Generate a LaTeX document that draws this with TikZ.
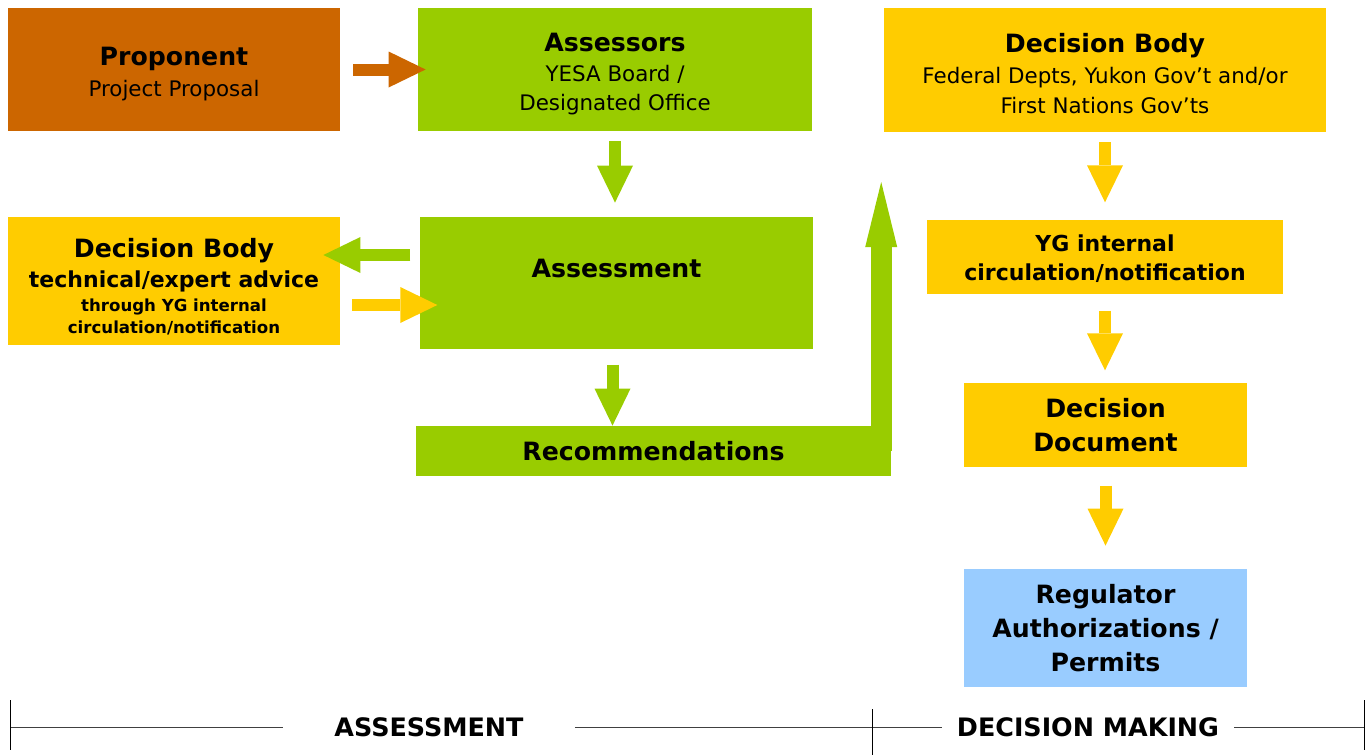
\documentclass[tikz,border=0pt]{standalone}
\usepackage{fontspec}
\setmainfont{DejaVu Sans}
\usetikzlibrary{arrows.meta}
\definecolor{propbrown}{RGB}{204,102,0}
\definecolor{yesagreen}{RGB}{153,204,0}
\definecolor{govyellow}{RGB}{255,204,0}
\definecolor{permitblue}{RGB}{153,204,255}
\definecolor{axisgray}{RGB}{64,64,64}
\newcommand{\boxtitle}{\fontsize{12.6}{17}\selectfont\bfseries}
\newcommand{\boxsub}{\fontsize{10.7}{15}\selectfont\mdseries}
\newcommand{\boxmid}{\fontsize{11}{14.5}\selectfont\bfseries}
\newcommand{\boxnote}{\fontsize{8.3}{10.5}\selectfont\bfseries}
\newcommand{\padtop}[1]{\rule{0pt}{#1}}
\tikzset{
	boxnode/.style={rectangle, inner sep=0pt, align=center, text=black},
	linegap/.style={font=\fontsize{10}{#1}\selectfont},
	blockarrow/.style={line width=6pt, -{Triangle[length=18.5pt, width=18pt, line width=0pt]}},
	axislabel/.style={inner ysep=0pt, font=\fontsize{12.7}{15}\selectfont\bfseries},
	axisline/.style={axisgray, line width=0.75pt},
	tickline/.style={black, line width=0.5pt}
}
\begin{document}
\begin{tikzpicture}[x=0.5pt, y=-0.5pt]
	\useasboundingbox (0,0) rectangle (1370,755);

	\node[boxnode, linegap=15.5, fill=propbrown, minimum width=166pt, minimum height=61.5pt] at (174,69.5) (prop) {\padtop{13.7pt}\boxtitle Proponent\\\boxsub Project Proposal};
	\node[boxnode, linegap=14.5, fill=yesagreen, minimum width=197pt, minimum height=61.5pt] at (615,69.5) (asr) {\padtop{14.2pt}\boxtitle Assessors\\[0.5pt]\boxsub YESA Board /\\\boxsub Designated Office};
	\node[boxnode, linegap=15.2, fill=govyellow, minimum width=221pt, minimum height=62pt] at (1105,70) (dbtop) {\padtop{13.3pt}\boxtitle Decision Body\\\boxsub Federal Depts, Yukon Gov’t and/or\\\boxsub First Nations Gov’ts};
	\node[boxnode, linegap=11, fill=govyellow, minimum width=166pt, minimum height=64pt] at (174,281) (dbleft) {\padtop{15.6pt}\boxtitle Decision Body\\[3pt]\boxmid technical/expert advice\\[1pt]\boxnote through YG internal\\\boxnote circulation/notification};
	\node[boxnode, linegap=15, fill=yesagreen, minimum width=196.5pt, minimum height=66pt] at (616.5,283) (asmt) {\boxtitle Assessment\\\boxtitle\mbox{}};
	\node[boxnode, fill=yesagreen, minimum width=237.5pt, minimum height=25pt] at (653.5,451) (rec) {\boxtitle Recommendations};
	\node[boxnode, linegap=14.5, fill=govyellow, minimum width=178pt, minimum height=37pt] at (1105,257) (yg) {\padtop{10.4pt}\boxmid YG internal\\\boxmid circulation/notification};
	\node[boxnode, linegap=17, fill=govyellow, minimum width=141.5pt, minimum height=42pt] at (1105.5,425) (ddoc) {\boxtitle Decision\\\boxtitle Document};
	\node[boxnode, linegap=17, fill=permitblue, minimum width=141.5pt, minimum height=59pt] at (1105.5,628) (reg) {\boxtitle Regulator\\\boxtitle Authorizations /\\\boxtitle Permits};

	\draw[blockarrow, propbrown, shorten <=6.5pt, shorten >=-4pt] (prop.east) -- (asr.west);
	\draw[blockarrow, yesagreen, shorten <=5pt, shorten >=7pt] (asr.south) -- (asr.south |- asmt.north);
	\draw[blockarrow, yesagreen, shorten <=4.65pt, shorten >=-8.5pt] ([yshift=14pt]asmt.west) -- ([yshift=14pt]asmt.west -| dbleft.east);
	\draw[blockarrow, govyellow, shorten <=6pt, shorten >=-8.85pt] ([yshift=-11pt]asmt.west -| dbleft.east) -- ([yshift=-11pt]asmt.west);
	\draw[blockarrow, yesagreen, shorten <=7.65pt] ([xshift=-2pt]asmt.south) -- ([xshift=-2pt]asmt.south |- rec.north);
	\coordinate (recup) at (881.2,182);
	\draw[line width=10.5pt, yesagreen, -{Triangle[length=32.5pt, width=16pt, line width=0pt]}] (recup |- rec.center) -- (recup);

	\draw[blockarrow, govyellow, shorten <=4.85pt, shorten >=8.65pt] (dbtop.south) -- (yg.north);
	\draw[blockarrow, govyellow, shorten <=8.15pt, shorten >=6.15pt] (yg.south) -- (yg.south |- ddoc.north);
	\draw[blockarrow, govyellow, shorten <=9.15pt, shorten >=11.5pt] (ddoc.south) -- (ddoc.south |- reg.north);

	\node[axislabel, inner xsep=25.5pt] at (429,727.7) (axs) {ASSESSMENT};
	\node[axislabel, inner xsep=7.5pt] at (1088,727.7) (axd) {DECISION MAKING};
	\coordinate (lt) at (10.5,727.7);
	\coordinate (mt) at (872,727.7);
	\coordinate (rt) at (1364,727.7);
	\draw[axisline] (lt) -- (axs) -- (mt) -- (axd) -- (rt);
	\draw[tickline] (10.5,700) -- (10.5,750);
	\draw[tickline] (872,709) -- (872,755);
	\draw[tickline] (1364,700) -- (1364,750);
\end{tikzpicture}
\end{document}
